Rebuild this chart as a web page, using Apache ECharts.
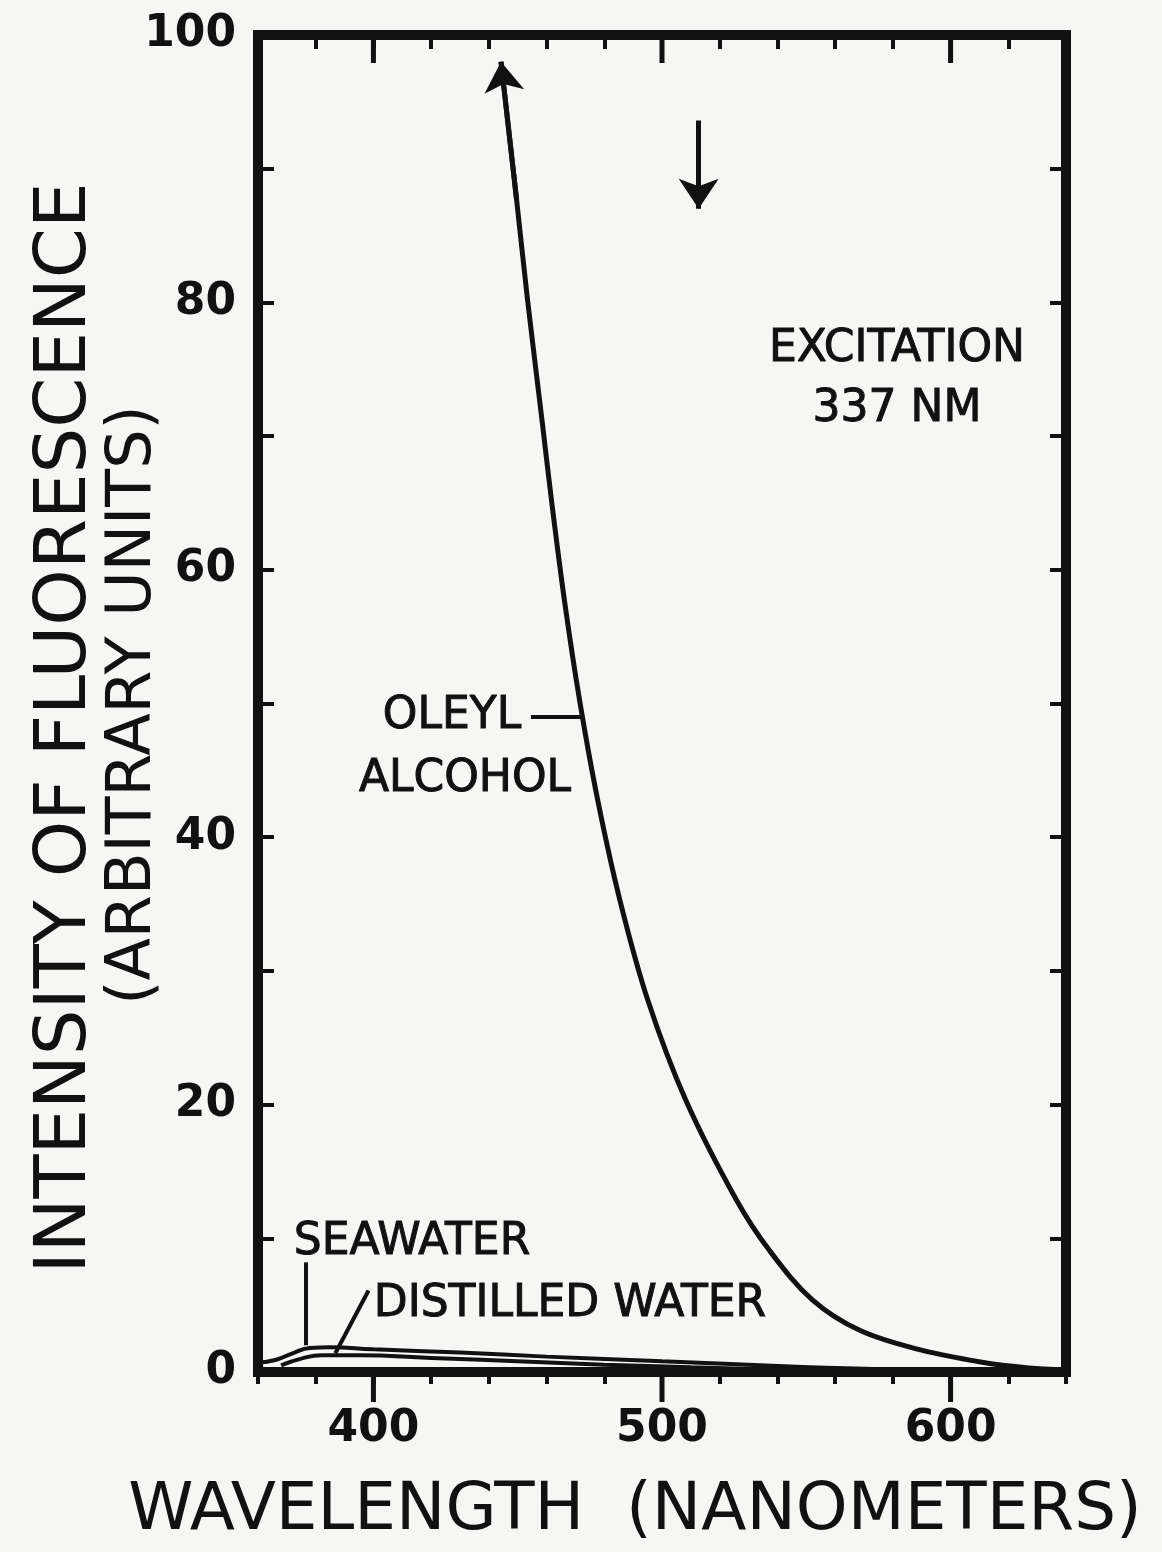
<!DOCTYPE html>
<html>
<head>
<meta charset="utf-8">
<title>Fluorescence intensity</title>
<script src="https://cdn.jsdelivr.net/npm/echarts@6.0.0/dist/echarts.min.js"></script>
<style>
  html, body { margin: 0; padding: 0; background: #f6f6f4; }
  #main { width: 1162px; height: 1552px; }
</style>
</head>
<body>
<div id="main"></div>
<script>
// oleyl alcohol curve, first point is where it runs off scale (arrow)
var oleylNm  = [444.2, 449.6, 453.4, 458.8, 461.7, 466.2, 471.4, 477.7, 485.4, 495.1, 508.3, 525.7, 537.2, 552.1, 568.7, 589.6, 610.4, 627.1, 639.7];
var oleylVal = [98.0, 87.7, 80.2, 70.5, 65.2, 57.7, 50.3, 42.8, 35.3, 27.8, 20.3, 12.9, 9.1, 5.4, 3.1, 1.65, 0.75, 0.3, 0.15];

var seaNm  = [360, 366, 372, 378, 385, 400, 430, 460, 500, 530, 560, 600, 640];
var seaVal = [0.7, 0.9, 1.4, 1.8, 1.85, 1.7, 1.45, 1.15, 0.8, 0.55, 0.3, 0.15, 0.05];

var distNm  = [368, 375, 382, 395, 420, 450, 480, 510, 540, 570];
var distVal = [0.5, 1.0, 1.25, 1.25, 1.05, 0.8, 0.55, 0.35, 0.2, 0.1];

var majorTicks = [400, 500, 600];

// pointer lines of the labels, in data units
var pointers = [
    [[376.7, 8.2], [376.7, 2.0]],   // seawater
    [[398.3, 6.1], [386.8, 1.4]],   // distilled water
    [[454.6, 49.0], [472.3, 49.0]]  // oleyl alcohol
];
var excitationArrow = [[512.7, 93.6], [512.7, 87.0]];

function pairs(xs, ys) {
    var out = [];
    for (var i = 0; i < xs.length; i++) out.push([xs[i], ys[i]]);
    return out;
}

var myChart = echarts.init(document.getElementById('main'));
var font = '"DejaVu Sans", sans-serif';
var black = '#111';

function frameLine() {
    return { show: true, onZero: false, lineStyle: { color: black, width: 10, cap: 'square' } };
}
function ticks(inside, len) {
    return { show: true, inside: inside, length: len, lineStyle: { color: black, width: 4 } };
}
// lettering on the plot, slightly heavier than the plain font
function note(text, x, y) {
    return { type: 'text', x: x, y: y, style: { text: text, font: '44px ' + font, fill: black, stroke: black, lineWidth: 1, align: 'center', verticalAlign: 'middle' } };
}

var option = {
    backgroundColor: '#f6f6f4',
    animation: false,
    grid: { left: 258, right: 96, top: 35, bottom: 180 },
    xAxis: [{
        type: 'value', position: 'bottom', min: 360, max: 640, interval: 20,
        axisLine: frameLine(),
        axisTick: ticks(false, 12),
        axisLabel: {
            margin: 36, fontSize: 44, fontWeight: 'bold', color: black, fontFamily: font,
            formatter: function (v) { return v % 100 === 0 ? String(v) : ''; }
        },
        splitLine: { show: false }
    }, {
        type: 'value', position: 'top', min: 360, max: 640, interval: 20,
        axisLine: frameLine(),
        axisTick: ticks(true, 14),
        axisLabel: { show: false },
        splitLine: { show: false }
    }],
    yAxis: [{
        type: 'value', position: 'left', min: 0, max: 100, interval: 10,
        axisLine: frameLine(),
        axisTick: ticks(true, 16),
        axisLabel: {
            margin: 22, fontSize: 44, fontWeight: 'bold', color: black, fontFamily: font,
            formatter: function (v) { return v % 20 === 0 ? String(v) : ''; }
        },
        splitLine: { show: false }
    }, {
        type: 'value', position: 'right', min: 0, max: 100, interval: 10,
        axisLine: frameLine(),
        axisTick: ticks(true, 16),
        axisLabel: { show: false },
        splitLine: { show: false }
    }],
    series: [{
        name: 'Oleyl alcohol', type: 'line', smooth: 0.35, showSymbol: false,
        data: pairs(oleylNm, oleylVal),
        lineStyle: { color: black, width: 5 }
    }, {
        name: 'Seawater', type: 'line', smooth: 0.5, showSymbol: false,
        data: pairs(seaNm, seaVal),
        lineStyle: { color: black, width: 4 }
    }, {
        name: 'Distilled water', type: 'line', smooth: 0.5, showSymbol: false,
        data: pairs(distNm, distVal),
        lineStyle: { color: black, width: 4 }
    }, {
        // longer ticks at 400, 500, 600 on top and bottom
        type: 'custom', clip: false, silent: true,
        data: majorTicks.map(function (v) { return [v]; }),
        encode: { x: 0 },
        renderItem: function (params, api) {
            var v = api.value(0);
            var b = api.coord([v, 0]);
            var t = api.coord([v, 100]);
            var st = { stroke: black, lineWidth: 5 };
            return {
                type: 'group',
                children: [
                    { type: 'line', shape: { x1: b[0], y1: b[1], x2: b[0], y2: b[1] + 30 }, style: st },
                    { type: 'line', shape: { x1: t[0], y1: t[1], x2: t[0], y2: t[1] + 28 }, style: st }
                ]
            };
        }
    }, {
        type: 'lines', coordinateSystem: 'cartesian2d', silent: true,
        symbol: 'none',
        lineStyle: { color: black, width: 4, opacity: 1 },
        data: pointers.map(function (p) { return { coords: p }; })
    }, {
        type: 'lines', coordinateSystem: 'cartesian2d', silent: true,
        symbol: ['none', 'arrow'], symbolSize: [22, 30],
        lineStyle: { color: black, width: 5, opacity: 1 },
        data: [
            { coords: excitationArrow },
            { coords: [[oleylNm[1], oleylVal[1]], [oleylNm[0], oleylVal[0]]] }
        ]
    }],
    graphic: [
        { type: 'text', x: 635, y: 1512, style: { text: 'WAVELENGTH  (NANOMETERS)', font: '66px ' + font, fill: black, align: 'center', verticalAlign: 'middle' } },
        { type: 'text', x: 66, y: 728, rotation: Math.PI / 2, style: { text: 'INTENSITY OF FLUORESCENCE', font: '72px ' + font, fill: black, align: 'center', verticalAlign: 'middle' } },
        { type: 'text', x: 134, y: 705, rotation: Math.PI / 2, style: { text: '(ARBITRARY UNITS)', font: '62px ' + font, fill: black, align: 'center', verticalAlign: 'middle' } },
        note('EXCITATION', 897, 350),
        note('337 NM', 897, 410),
        note('OLEYL', 452, 717),
        note('ALCOHOL', 465, 780),
        note('SEAWATER', 412, 1243),
        note('DISTILLED WATER', 570, 1305)
    ]
};

myChart.setOption(option);
</script>
</body>
</html>
